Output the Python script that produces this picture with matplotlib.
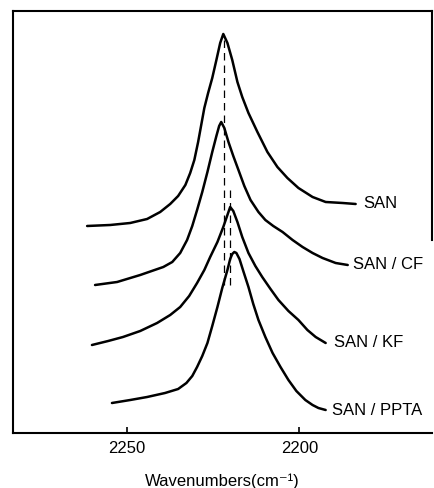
import matplotlib.pyplot as plt

plt.rcParams['font.family'] = ['Liberation Sans', 'DejaVu Sans']

# traced IR spectra of the nitrile band, stacked with vertical offsets
san_wn = [2261.6, 2254.9, 2249.1, 2244.2, 2240.4, 2237.5, 2235.2, 2233.1, 2231.7,
          2230.5, 2229.4, 2228.5, 2227.6, 2226.5, 2225.3, 2224.1, 2223.0, 2222.1,
          2220.9, 2219.5, 2218.0, 2216.6, 2214.8, 2212.2, 2209.3, 2206.4, 2203.5,
          2200.3, 2196.2, 2192.4, 2187.5, 2183.7]
san_abs = [2.07, 2.08, 2.10, 2.14, 2.21, 2.29, 2.37, 2.48, 2.60,
           2.73, 2.91, 3.08, 3.25, 3.40, 3.55, 3.73, 3.90, 3.99,
           3.90, 3.73, 3.51, 3.36, 3.20, 3.01, 2.81, 2.66, 2.55,
           2.45, 2.36, 2.31, 2.30, 2.29]

cf_wn = [2259.3, 2252.9, 2246.2, 2239.5, 2236.9, 2234.6, 2232.6, 2231.1, 2229.7,
         2228.2, 2226.7, 2225.3, 2224.1, 2223.3, 2222.7, 2221.8, 2220.6, 2219.2,
         2217.7, 2216.0, 2214.2, 2211.9, 2209.9, 2207.6, 2204.9, 2202.0, 2199.1,
         2196.2, 2193.3, 2189.5, 2186.0]
cf_abs = [1.48, 1.51, 1.58, 1.66, 1.71, 1.80, 1.93, 2.07, 2.23,
          2.41, 2.61, 2.81, 2.97, 3.07, 3.11, 3.05, 2.91, 2.77,
          2.63, 2.47, 2.33, 2.21, 2.13, 2.07, 2.01, 1.93, 1.86,
          1.80, 1.75, 1.70, 1.68]

kf_wn = [2260.2, 2255.5, 2251.2, 2246.2, 2241.3, 2237.5, 2234.6, 2232.0, 2229.7,
         2227.6, 2225.9, 2223.8, 2222.1, 2220.9, 2220.1, 2219.2, 2218.0, 2216.6,
         2214.8, 2212.8, 2210.8, 2208.4, 2206.1, 2203.2, 2200.3, 2197.7, 2195.3,
         2192.4]
kf_abs = [0.88, 0.92, 0.96, 1.02, 1.10, 1.18, 1.26, 1.37, 1.50,
          1.63, 1.76, 1.91, 2.06, 2.18, 2.26, 2.22, 2.11, 1.96,
          1.80, 1.67, 1.56, 1.44, 1.33, 1.22, 1.13, 1.03, 0.96,
          0.90]

ppta_wn = [2254.4, 2249.1, 2244.2, 2239.0, 2235.2, 2232.8, 2231.1, 2229.7, 2228.2,
           2226.7, 2225.3, 2223.8, 2222.4, 2220.9, 2220.1, 2219.5, 2218.9, 2218.3,
           2217.4, 2216.3, 2214.8, 2213.4, 2211.9, 2209.9, 2207.8, 2205.5, 2203.2,
           2200.9, 2198.3, 2196.2, 2194.5, 2192.4]
ppta_abs = [0.30, 0.33, 0.36, 0.40, 0.44, 0.50, 0.57, 0.66, 0.77,
            0.90, 1.07, 1.26, 1.45, 1.63, 1.74, 1.79, 1.81, 1.80,
            1.74, 1.62, 1.46, 1.29, 1.13, 0.96, 0.80, 0.66, 0.53,
            0.42, 0.33, 0.28, 0.25, 0.23]

labels = ['SAN', 'SAN / CF', 'SAN / KF', 'SAN / PPTA']
label_wn = [2181.4, 2184.6, 2190.1, 2190.7]

# peak markers (dashed guides)
peak_wn = [2222.0, 2220.1]
peak_top = [3.98, 2.43]
peak_bottom = [1.48, 1.48]

fig = plt.figure(figsize=(4.34, 4.88), dpi=100)
ax = fig.add_axes([0.030, 0.1127, 0.965, 0.8648])

spectra = [(san_wn, san_abs), (cf_wn, cf_abs), (kf_wn, kf_abs), (ppta_wn, ppta_abs)]
for (wn, a), lab, lx in zip(spectra, labels, label_wn):
    ax.plot(wn, a, color='black', lw=1.8, solid_joinstyle='round', solid_capstyle='round')
    ax.text(lx, a[-1], lab, ha='left', va='center', fontsize=12)

for x, y1, y0 in zip(peak_wn, peak_top, peak_bottom):
    ax.plot([x, x], [y0, y1], color='black', lw=0.9, dashes=(6, 4))

ax.set_xlim(2283.1, 2161.6)
ax.set_ylim(0, 4.22)
ax.set_xticks([2250, 2200])
ax.set_yticks([])
ax.tick_params(axis='x', direction='in', length=4, width=1.2, labelsize=12, pad=6)
for s in ax.spines.values():
    s.set_linewidth(1.5)
ax.spines['right'].set_bounds(1.93, 4.22)
ax.set_xlabel('Wavenumbers(cm\u207b\u00b9)', fontsize=12, labelpad=12)

fig.savefig('out.png', dpi=100)
